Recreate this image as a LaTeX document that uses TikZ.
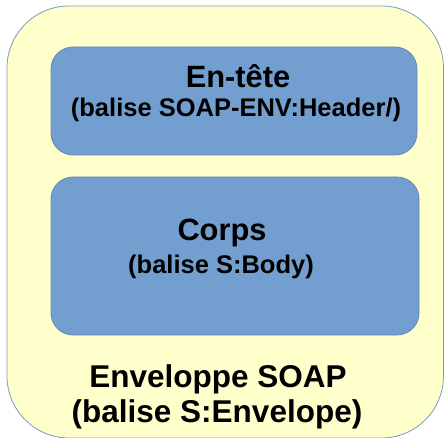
\documentclass[tikz,border=0pt]{standalone}
\usepackage{fontspec}
\setmainfont{Liberation Sans}
\definecolor{envfill}{HTML}{FFFFCC}
\definecolor{envline}{HTML}{7C9CBC}
\definecolor{partfill}{HTML}{729FCF}
\definecolor{partline}{HTML}{6388B4}
\tikzset{
  partbox/.style={draw=partline, fill=partfill, line width=0.8pt, rounded corners=22pt},
  envbox/.style={draw=envline, fill=envfill, line width=0.8pt, rounded corners=62pt},
  title/.style={font=\bfseries\fontsize{30.8}{34}\selectfont, anchor=base, inner sep=0pt},
  subtitle/.style={font=\bfseries\fontsize{25.5}{28}\selectfont, anchor=base, inner sep=0pt},
  envtext/.style={font=\bfseries\fontsize{31.5}{34}\selectfont, anchor=base, inner sep=0pt}
}
\begin{document}
\begin{tikzpicture}[x=1pt,y=1pt]
  \useasboundingbox (0,0) rectangle (444,437);
  \begin{scope}
    \clip (0,0) rectangle (444,437);
    % SOAP envelope
    \path[envbox] (7,-1) rectangle (443.5,431);
  \end{scope}
  % header and body blocks
  \path[partbox] (51,282) rectangle (417,390);
  \path[partbox] (51,102) rectangle (419,260);
  % labels
  \node[title]    (hdr)   at (238,349) {En-tête};
  \node[subtitle] (hdrs)  at (236,320) {(balise SOAP-ENV:Header/)};
  \node[title]    (body)  at (222,197) {Corps};
  \node[subtitle] (bodys) at (221,164) {(balise S:Body)};
  \node[envtext]  (env)   at (218,50)  {Enveloppe SOAP};
  \node[envtext]  (envs)  at (217,15)  {(balise S:Envelope)};
\end{tikzpicture}
\end{document}
